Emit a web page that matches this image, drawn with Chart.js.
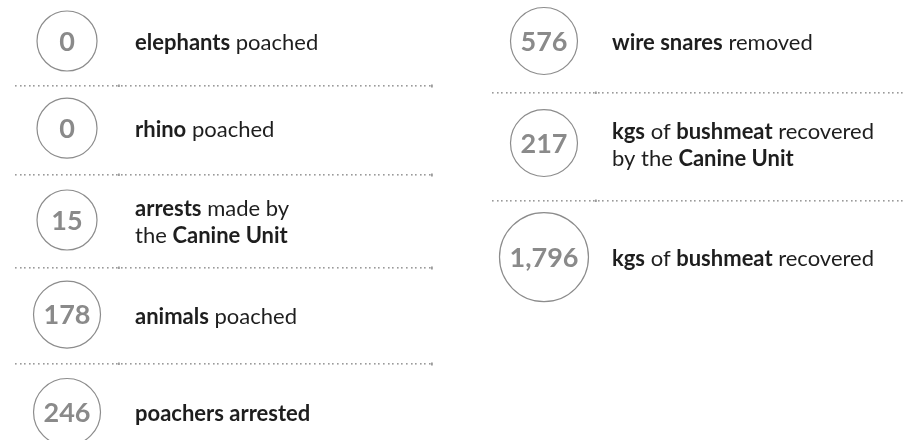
<!DOCTYPE html>
<html>
<head>
<meta charset="utf-8">
<script src="https://cdn.jsdelivr.net/npm/chart.js@4.4.1/dist/chart.umd.min.js"></script>
<style>
  html, body { margin: 0; padding: 0; background: #fff; }
  #wrap { width: 906px; height: 440px; position: relative; }
</style>
</head>
<body>
<div id="wrap"><canvas id="statsChart"></canvas></div>
<script>
// 数値と説明文（**太字**、\n は改行）
const statValues = [0, 0, 15, 178, 246, 576, 217, 1796];
const statLabels = [
    '**elephants** poached',
    '**rhino** poached',
    '**arrests** made by\nthe **Canine Unit**',
    '**animals** poached',
    '**poachers arrested**',
    '**wire snares** removed',
    '**kgs** of **bushmeat** recovered\nby the **Canine Unit**',
    '**kgs** of **bushmeat** recovered'
];
// 列（0 = 左, 1 = 右）と行の位置
const statColumns = [0, 0, 0, 0, 0, 1, 1, 1];
const statRows = [0, 0.94, 1.93, 2.95, 4, 0, 1.1, 2.33];

const NUMBER_FONT = 'bold 27px Lato, "Open Sans", sans-serif';
const TEXT_SIZE = 22;
const FONT_FAMILY = 'Lato, "Open Sans", sans-serif';

function formatValue(v) {
    return v.toLocaleString('en-US');
}

// 数値の幅から円の半径を決める
function circleRadius(chart, index) {
    if (index === undefined) return 30;
    const ctx = chart.ctx;
    ctx.save();
    ctx.font = NUMBER_FONT;
    const w = ctx.measureText(formatValue(statValues[index])).width;
    ctx.restore();
    return Math.max(30, w / 2 + 10);
}

const statPoints = statValues.map((v, i) => ({ x: statColumns[i], y: statRows[i] }));

// 数値・説明文・点線を描くプラグイン
const statTextPlugin = {
    id: 'statText',
    afterDatasetsDraw(chart) {
        const ctx = chart.ctx;
        const xs = chart.scales.x;
        const ys = chart.scales.y;

        // 点線の区切り
        ctx.save();
        ctx.fillStyle = '#9a9a9a';
        [0, 1].forEach(col => {
            const rows = statRows.filter((r, i) => statColumns[i] === col);
            const cx = xs.getPixelForValue(col);
            const x0 = cx - 52;
            const x1 = Math.min(cx + 363, chart.width);
            for (let k = 0; k < rows.length - 1; k++) {
                const y = Math.round(ys.getPixelForValue((rows[k] + rows[k + 1]) / 2));
                for (let x = x0; x < x1; x += 4.6) {
                    ctx.fillRect(Math.round(x), y, 1.6, 1.6);
                }
                ctx.fillRect(x0 + 103, y - 0.5, 1.8, 2.5);
                if (col === 0) ctx.fillRect(x1 + 1, y - 0.5, 1.8, 3);
            }
        });
        ctx.restore();

        const meta = chart.getDatasetMeta(0);
        meta.data.forEach((pt, i) => {
            // 円の中の数値
            ctx.save();
            ctx.font = NUMBER_FONT;
            ctx.fillStyle = '#8a8a8a';
            ctx.textAlign = 'center';
            ctx.textBaseline = 'middle';
            ctx.fillText(formatValue(statValues[i]), pt.x, pt.y + 1);
            ctx.restore();

            // 説明文
            const lines = statLabels[i].split('\n');
            const lineHeight = 27;
            const textX = xs.getPixelForValue(statColumns[i]) + 68;
            let y = pt.y + 2 - (lines.length - 1) * lineHeight / 2;
            lines.forEach(line => {
                let x = textX;
                line.split('**').forEach((seg, j) => {
                    if (!seg) return;
                    ctx.save();
                    ctx.font = (j % 2 ? 'bold ' : '') + TEXT_SIZE + 'px ' + FONT_FAMILY;
                    ctx.fillStyle = '#1e1e1e';
                    ctx.textAlign = 'left';
                    ctx.textBaseline = 'middle';
                    ctx.fillText(seg, x, y);
                    x += ctx.measureText(seg).width;
                    ctx.restore();
                });
                y += lineHeight;
            });
        });
    }
};

new Chart(document.getElementById('statsChart').getContext('2d'), {
    type: 'scatter',
    data: {
        datasets: [{
            label: 'stats',
            data: statPoints,
            pointRadius: (c) => circleRadius(c.chart, c.dataIndex),
            pointHoverRadius: (c) => circleRadius(c.chart, c.dataIndex),
            pointBackgroundColor: 'rgba(255,255,255,0)',
            pointBorderColor: '#8c8c8c',
            pointBorderWidth: 1.2,
            clip: false
        }]
    },
    plugins: [statTextPlugin],
    options: {
        responsive: true,
        maintainAspectRatio: false,
        animation: false,
        events: [],
        layout: { padding: 0, autoPadding: false },
        scales: {
            x: { type: 'linear', display: false, min: -0.1405, max: 1.759 },
            y: { type: 'linear', display: false, reverse: true, min: -0.442, max: 4.302 }
        },
        plugins: {
            legend: { display: false },
            tooltip: { enabled: false },
            title: { display: false }
        }
    }
});
</script>
</body>
</html>
